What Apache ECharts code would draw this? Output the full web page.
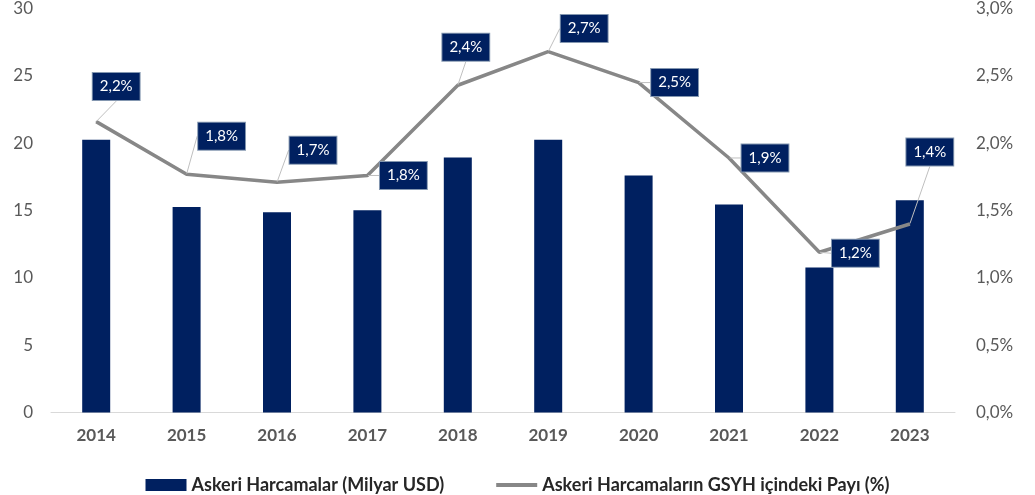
<!DOCTYPE html>
<html>
<head>
<meta charset="utf-8">
<script src="https://cdn.jsdelivr.net/npm/echarts@6/dist/echarts.min.js"></script>
<style>html,body{margin:0;padding:0;background:#fff;}#chart{width:1035px;height:495px;}</style>
</head>
<body>
<div id="chart"></div>
<script>
// ---- data ----
const categories = ['2014','2015','2016','2017','2018','2019','2020','2021','2022','2023'];
const spending = [20.26, 15.26, 14.87, 15.02, 18.93, 20.26, 17.59, 15.44, 10.77, 15.76];
const gdpShare = [2.16, 1.77, 1.71, 1.76, 2.43, 2.68, 2.45, 1.89, 1.19, 1.40];
const leftTicks = [0, 5, 10, 15, 20, 25, 30];
const rightTicks = [0, 0.5, 1.0, 1.5, 2.0, 2.5, 3.0];
const barName = 'Askeri Harcamalar (Milyar USD)';
const lineName = 'Askeri Harcamaların GSYH içindeki Payı (%)';

// ---- label callout offsets (layout, px) ----
const labelOffsets = [[20,-35],[35,-38],[36,-32],[36,0],[8,-38],[36,-23],[36,0],[36,0],[36,1],[20,-72]];

const font = 'Lato, "Open Sans", sans-serif';
const fmt = v => v.toFixed(1).replace('.', ',');

const chart = echarts.init(document.getElementById('chart'));
chart.setOption({
  animation: false,
  textStyle: { fontFamily: font },
  grid: { left: 51, right: 80, top: 8, bottom: 82.5 },
  legend: {
    top: 471, left: 'center',
    itemWidth: 41, itemHeight: 12, itemGap: 52,
    textStyle: { fontFamily: font, fontSize: 18, fontWeight: 'bold', color: '#262626' },
    data: [
      { name: barName, icon: 'rect' },
      { name: lineName, icon: 'path://M0,0 L41,0 L41,4 L0,4 Z' }
    ]
  },
  xAxis: {
    type: 'category', data: categories,
    axisLine: { lineStyle: { color: '#d9d9d9', width: 1 } },
    axisTick: { show: false },
    axisLabel: { color: '#595959', fontSize: 17, fontWeight: 'bold', margin: 15, fontFamily: font }
  },
  yAxis: [
    {
      type: 'value', min: leftTicks[0], max: leftTicks[leftTicks.length-1], interval: leftTicks[1]-leftTicks[0],
      splitLine: { show: false }, axisLine: { show: false }, axisTick: { show: false },
      axisLabel: { color: '#595959', fontSize: 17, margin: 18, fontFamily: font }
    },
    {
      type: 'value', min: rightTicks[0], max: rightTicks[rightTicks.length-1], interval: rightTicks[1]-rightTicks[0],
      splitLine: { show: false }, axisLine: { show: false }, axisTick: { show: false },
      axisLabel: { color: '#595959', fontSize: 17, margin: 21, fontFamily: font, formatter: v => fmt(v) + '%' }
    }
  ],
  series: [
    {
      name: barName, type: 'bar', data: spending, barWidth: 28,
      itemStyle: { color: '#002060' }
    },
    {
      name: lineName, type: 'line', yAxisIndex: 1, data: gdpShare,
      symbol: 'circle', symbolSize: 1, showSymbol: true,
      lineStyle: { color: '#878787', width: 3.5 },
      itemStyle: { color: '#878787' },
      z: 3,
      label: {
        show: true, position: 'inside',
        formatter: p => fmt(p.value) + '%',
        color: '#ffffff', fontSize: 15, lineHeight: 15, fontFamily: font,
        backgroundColor: '#002060', borderColor: '#8497b0', borderWidth: 1,
        padding: [6, 7, 6, 7]
      },
      labelLine: { show: true, lineStyle: { color: '#bfbfbf', width: 1 }, smooth: false },
      labelLayout: p => ({ dx: labelOffsets[p.dataIndex][0], dy: labelOffsets[p.dataIndex][1], hideOverlap: false })
    }
  ]
});
</script>
</body>
</html>
